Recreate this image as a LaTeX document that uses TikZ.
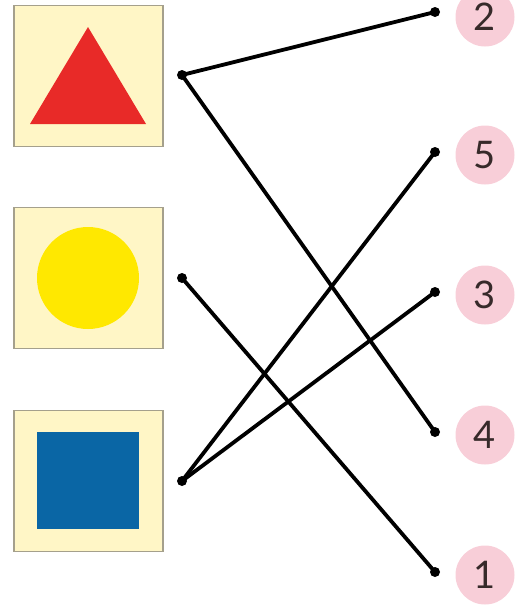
\documentclass[tikz,border=0pt]{standalone}
\usepackage{fontspec}
\setsansfont{Lato}
\definecolor{cardfill}{RGB}{255,246,198}
\definecolor{cardline}{RGB}{165,160,140}
\definecolor{trired}{RGB}{232,42,40}
\definecolor{sunyellow}{RGB}{255,232,0}
\definecolor{sqblue}{RGB}{10,102,165}
\definecolor{numpink}{RGB}{248,206,216}
\definecolor{numtext}{RGB}{55,42,42}
\begin{document}
\begin{tikzpicture}[x=1pt, y=-1pt, font=\sffamily, line width=3.8pt,
    card/.style={draw=cardline, line width=1.2pt, fill=cardfill, minimum width=149pt, minimum height=141pt, inner sep=0pt},
    num/.style={circle, fill=numpink, minimum size=59pt, inner sep=0pt, text=numtext, font=\sffamily\fontsize{38}{38}\selectfont},
    dot/.style={circle, fill=black, inner sep=0pt, minimum size=10pt}]
  \useasboundingbox (0,0) rectangle (520,605);
  % cards with shapes
  \node[card] (cardtri) at (88.5,76) {};
  \node[card] (cardsun) at (88.5,278) {};
  \node[card] (cardsq) at (88.5,481) {};
  \fill[trired] (88,27) -- (146,124) -- (30,124) -- cycle;
  \fill[sunyellow] (88,278) circle (51);
  \fill[sqblue] (37,432) rectangle (139,529);
  % numbers
  \node[num] (n2) at (485,17) {2};
  \node[num] (n5) at (485,155) {5};
  \node[num] (n3) at (485,295) {3};
  \node[num] (n4) at (485,435) {4};
  \node[num] (n1) at (485,575) {1};
  % dots
  \node[dot] (ltri) at (182,75) {};
  \node[dot] (lsun) at (182,278) {};
  \node[dot] (lsq) at (182,481) {};
  \node[dot] (r2) at (435,12) {};
  \node[dot] (r5) at (435,152) {};
  \node[dot] (r3) at (435,292) {};
  \node[dot] (r4) at (435,432) {};
  \node[dot] (r1) at (435,572) {};
  % matching lines
  \draw (ltri.center) -- (r2.center);
  \draw (ltri.center) -- (r4.center);
  \draw (lsun.center) -- (r1.center);
  \draw (lsq.center) -- (r5.center);
  \draw (lsq.center) -- (r3.center);
\end{tikzpicture}
\end{document}
